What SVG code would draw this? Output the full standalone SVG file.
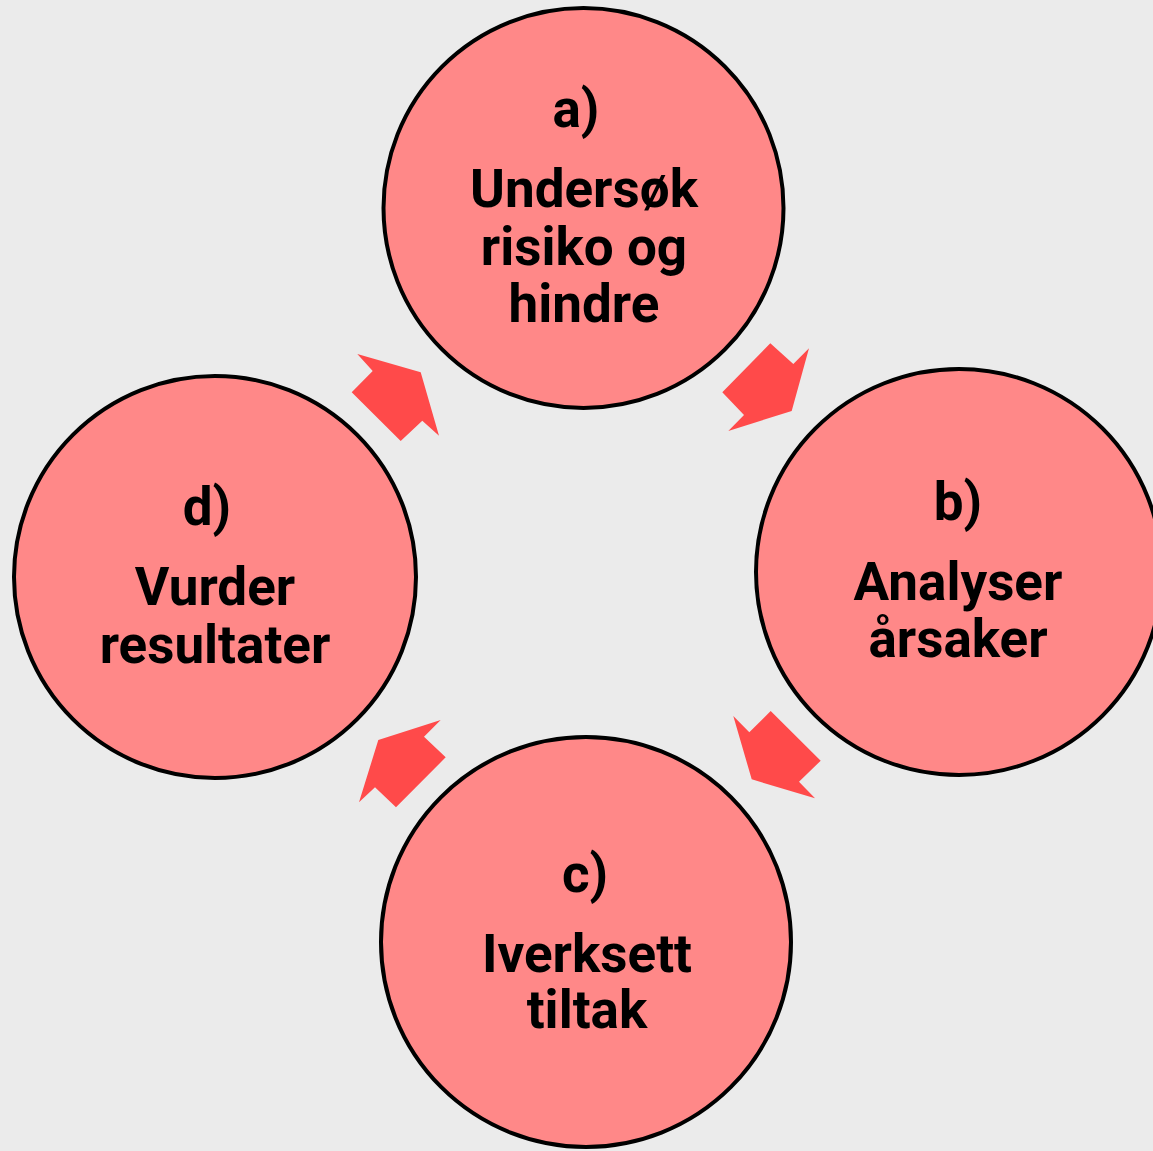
<svg xmlns="http://www.w3.org/2000/svg" width="1153" height="1151" viewBox="0 0 1153 1151">
<style>
.node{fill:#FF8888;stroke:#000;stroke-width:4}
.lbl{font-family:Roboto,"Liberation Sans",sans-serif;font-weight:bold;font-size:53px;fill:#000;text-anchor:middle}
.arr{fill:#FF4A4A}
</style>
<rect width="1153" height="1151" fill="#EBEBEB"/>
<g id="connectors">
<polygon class="arr" points="770.3,343.3 793.3,364 809,348.3 791.7,411 728.3,431 744,415 722.3,392.3"/>
<polygon class="arr" points="770.7,711 820.7,760.7 799,781.7 815,798.3 751.7,779.3 733.3,716 749.3,732.3"/>
<polygon class="arr" points="440.7,720 424,736.7 445.7,757.3 396,807.3 375,787.3 359,802.3 378.3,740"/>
<polygon class="arr" points="357.3,354 420.7,372.3 439,435.7 422.3,420.7 400.7,441 351.7,392.3 372.7,371"/>
</g>
<g id="node-a">
<circle class="node" cx="583.5" cy="208" r="200"/>
<text class="lbl" x="576" y="127">a)</text>
<text class="lbl" x="584" y="207">Undersøk</text>
<text class="lbl" x="584" y="265">risiko og</text>
<text class="lbl" x="584" y="322">hindre</text>
</g>
<g id="node-b">
<circle class="node" cx="959" cy="572" r="203"/>
<text class="lbl" x="958" y="520">b)</text>
<text class="lbl" x="958" y="600">Analyser</text>
<text class="lbl" x="958" y="657">årsaker</text>
</g>
<g id="node-c">
<circle class="node" cx="586" cy="942" r="205"/>
<text class="lbl" x="585" y="892">c)</text>
<text class="lbl" x="587" y="972">Iverksett</text>
<text class="lbl" x="587" y="1028">tiltak</text>
</g>
<g id="node-d">
<circle class="node" cx="215" cy="577" r="201"/>
<text class="lbl" x="207" y="525">d)</text>
<text class="lbl" x="215" y="605">Vurder</text>
<text class="lbl" x="215" y="663">resultater</text>
</g>
</svg>
